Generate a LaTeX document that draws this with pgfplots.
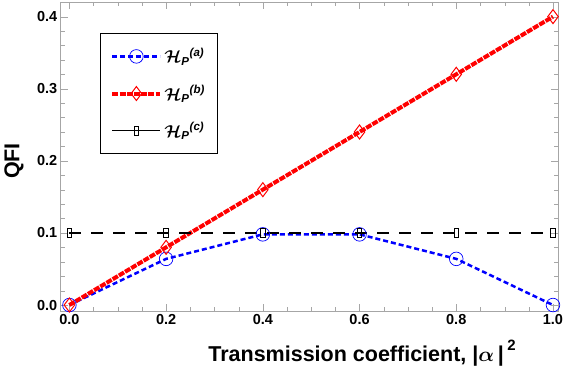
\documentclass[border=0pt]{standalone}
\usepackage{pgfplots}
\pgfplotsset{compat=1.18}
\usepackage{fontspec}
\setmainfont{Liberation Sans}
\usepackage{amsmath}
\pgfplotsset{
  solidlegend/.style={legend image code/.code={\draw[##1,solid,mark repeat=2,mark phase=2] plot coordinates {(0pt,0pt) (24pt,0pt) (48pt,0pt)};}},
}
\begin{document}
\begin{tikzpicture}
\begin{axis}[
  scale only axis,
  width=497.3pt, height=309.3pt,
  xmin=-0.018, xmax=1.0104,
  ymin=-0.0087, ymax=0.4203,
  xtick={0,0.2,...,1.0},
  ytick={0,0.1,...,0.4},
  minor x tick num=3,
  minor y tick num=4,
  tick align=inside,
  axis line style={gray!70},
  tick style={gray!70},
  major tick length=7pt,
  minor tick length=4pt,
  xticklabel style={/pgf/number format/.cd,fixed,fixed zerofill,precision=1},
  yticklabel style={/pgf/number format/.cd,fixed,fixed zerofill,precision=1},
  /pgf/number format/assume math mode=true,
  ticklabel style={font=\bfseries\fontsize{14.5}{17}\selectfont},
  xlabel={Transmission coefficient, \textbf{|}$\boldsymbol{\alpha}$\,\textbf{|}\,\raisebox{1.0ex}{\fontsize{15}{16}\selectfont\textbf{2}}},
  ylabel={QFI},
  label style={font=\bfseries\fontsize{21.5}{24}\selectfont},
  xlabel style={at={(axis description cs:0.606,-0.162)},anchor=base},
  ylabel style={at={(axis description cs:-0.094,0.486)},anchor=center},
  legend style={at={(axis description cs:0.079,0.9)},anchor=north west,
    draw=black, line width=0.8pt, font=\fontsize{16.5}{18}\selectfont,
    row sep=17pt, inner xsep=10pt, inner ysep=13pt},
  legend cell align=left,
  legend image code/.code={\draw[#1,mark repeat=2,mark phase=2] plot coordinates {(0pt,0pt) (24pt,0pt) (48pt,0pt)};},
]
\addplot[blue, line width=2.5pt, dash pattern=on 5pt off 3pt, mark=o, mark size=6.8pt, mark options={solid, line width=0.7pt}]
  coordinates {(0,0) (0.2,0.064) (0.4,0.098) (0.6,0.098) (0.8,0.064) (1.0,0)};
\addlegendentry{$\boldsymbol{\mathcal{H}}_{\textbf{\textit{P}}}{}^{\textbf{\textit{(a)}}}$}
\addplot[red, line width=4pt, dash pattern=on 6pt off 1.2pt, mark=diamond, mark size=7pt, mark options={solid, line width=1pt,fill=white}]
  coordinates {(0,0) (0.2,0.08) (0.4,0.16) (0.6,0.24) (0.8,0.32) (1.0,0.4)};
\addlegendentry{$\boldsymbol{\mathcal{H}}_{\textbf{\textit{P}}}{}^{\textbf{\textit{(b)}}}$}
\addplot[black, line width=1.6pt, dash pattern=on 12pt off 10pt, mark=square, mark size=4.5pt, mark options={solid, line width=0.8pt, xscale=0.5}, solidlegend]
  coordinates {(0,0.1) (0.2,0.1) (0.4,0.1) (0.6,0.1) (0.8,0.1) (1.0,0.1)};
\addlegendentry{$\boldsymbol{\mathcal{H}}_{\textbf{\textit{P}}}{}^{\textbf{\textit{(c)}}}$}
\end{axis}
\pgfresetboundingbox
\path ([shift={(-60.7pt,-56.7pt)}]current axis.south west) rectangle ([shift={(5pt,2pt)}]current axis.north east);
\end{tikzpicture}
\end{document}
